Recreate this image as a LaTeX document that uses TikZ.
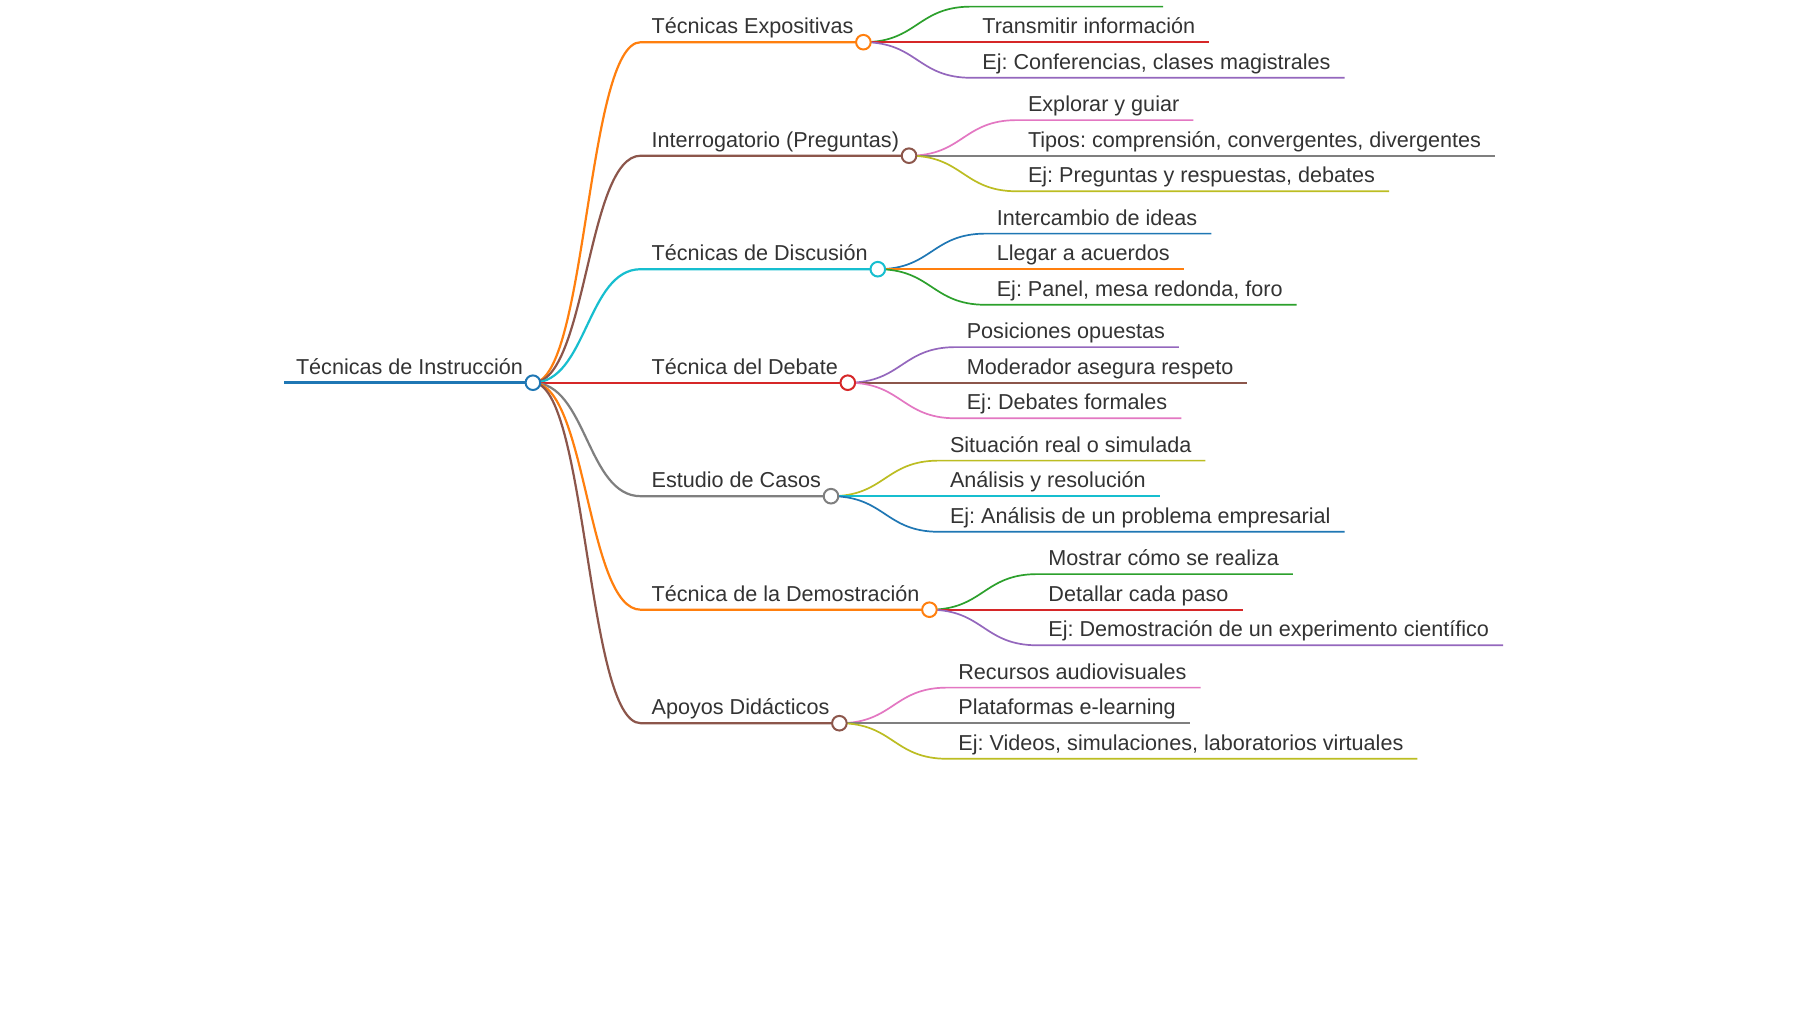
\documentclass[tikz,border=0pt]{standalone}
\usepackage{fontspec}
\setmainfont{Liberation Sans}
\usetikzlibrary{calc}
\definecolor{cBlue}{HTML}{1F77B4}
\definecolor{cOrange}{HTML}{FF7F0E}
\definecolor{cGreen}{HTML}{2CA02C}
\definecolor{cRed}{HTML}{D62728}
\definecolor{cPurple}{HTML}{9467BD}
\definecolor{cBrown}{HTML}{8C564B}
\definecolor{cPink}{HTML}{E377C2}
\definecolor{cGray}{HTML}{7F7F7F}
\definecolor{cOlive}{HTML}{BCBD22}
\definecolor{cCyan}{HTML}{17BECF}
\definecolor{txtc}{HTML}{333333}
\tikzset{
  lbl/.style={anchor=base west, inner sep=0pt, outer sep=0pt, text=txtc,
    font=\fontsize{21.6}{26}\selectfont\frenchspacing},
  l0/.style={line width=3pt},
  l1/.style={line width=2.2pt},
  l2/.style={line width=1.7pt},
  dotc/.style={circle, fill=white, line width=2pt, minimum size=14.6pt, inner sep=0pt}
}
\newcommand{\mmbranch}[4]{% name, y, color, text
  \coordinate (#1S) at (640.7,#2);
  \node[lbl] (#1) at ($(#1S)+(11,-8.5)$) {#4};
  \coordinate (#1C) at ($(#1.base east)+(10,8.5)$);
  \draw[l1,#3] (rC) .. controls +(54,0) and +(-54,0) .. (#1S) -- (#1C);
}
\newcommand{\mmleaf}[5]{% parent, name, dy, color, text
  \coordinate (#2S) at ($(#1C)+(108,#3)$);
  \node[lbl] (#2) at ($(#2S)+(11,-8.5)$) {#5};
  \coordinate (#2E) at ($(#2.base east)+(14,8.5)$);
  \draw[l2,#4] (#1C) .. controls +(54,0) and +(-54,0) .. (#2S) -- (#2E);
}
\begin{document}
\begin{tikzpicture}[x=1pt,y=-1pt]
\fill[white] (0,0) rectangle (1800,1012);
\useasboundingbox (0,0) rectangle (1800,1012);

% root
\coordinate (rS) at (284,382.7);
\node[lbl] (r) at (296,374.2) {Técnicas de Instrucción};
\coordinate (rC) at ($(r.base east)+(10,8.5)$);

% level 1
\mmbranch{a}{42.2}{cOrange}{Técnicas Expositivas}
\mmbranch{b}{155.7}{cBrown}{Interrogatorio (Preguntas)}
\mmbranch{c}{269.2}{cCyan}{Técnicas de Discusión}
\mmbranch{d}{382.7}{cRed}{Técnica del Debate}
\mmbranch{e}{496.2}{cGray}{Estudio de Casos}
\mmbranch{f}{609.7}{cOrange}{Técnica de la Demostración}
\mmbranch{g}{723.2}{cBrown}{Apoyos Didácticos}

% level 2
\coordinate (a1S) at ($(aC)+(108,-35.6)$);
\coordinate (a1E) at ($(a1S)+(191.7,0)$);
\draw[l2,cGreen] (aC) .. controls +(54,0) and +(-54,0) .. (a1S) -- (a1E);
\mmleaf{a}{a2}{0}{cRed}{Transmitir información}
\mmleaf{a}{a3}{35.6}{cPurple}{Ej: Conferencias, clases magistrales}

\mmleaf{b}{b1}{-35.6}{cPink}{Explorar y guiar}
\mmleaf{b}{b2}{0}{cGray}{Tipos: comprensión, convergentes, divergentes}
\mmleaf{b}{b3}{35.6}{cOlive}{Ej: Preguntas y respuestas, debates}

\mmleaf{c}{c1}{-35.6}{cBlue}{Intercambio de ideas}
\mmleaf{c}{c2}{0}{cOrange}{Llegar a acuerdos}
\mmleaf{c}{c3}{35.6}{cGreen}{Ej: Panel, mesa redonda, foro}

\mmleaf{d}{d1}{-35.6}{cPurple}{Posiciones opuestas}
\mmleaf{d}{d2}{0}{cBrown}{Moderador asegura respeto}
\mmleaf{d}{d3}{35.6}{cPink}{Ej: Debates formales}

\mmleaf{e}{e1}{-35.6}{cOlive}{Situación real o simulada}
\mmleaf{e}{e2}{0}{cCyan}{Análisis y resolución}
\mmleaf{e}{e3}{35.6}{cBlue}{Ej: Análisis de un problema empresarial}

\mmleaf{f}{f1}{-35.6}{cGreen}{Mostrar cómo se realiza}
\mmleaf{f}{f2}{0}{cRed}{Detallar cada paso}
\mmleaf{f}{f3}{35.6}{cPurple}{Ej: Demostración de un experimento científico}

\mmleaf{g}{g1}{-35.6}{cPink}{Recursos audiovisuales}
\mmleaf{g}{g2}{0}{cGray}{Plataformas e-learning}
\mmleaf{g}{g3}{35.6}{cOlive}{Ej: Videos, simulaciones, laboratorios virtuales}

% root line
\draw[l0,cBlue] (rS) -- (rC);

% circles on top
\node[dotc,draw=cBlue] (rD) at (rC) {};
\node[dotc,draw=cOrange] (aD) at (aC) {};
\node[dotc,draw=cBrown] (bD) at (bC) {};
\node[dotc,draw=cCyan] (cD) at (cC) {};
\node[dotc,draw=cRed] (dD) at (dC) {};
\node[dotc,draw=cGray] (eD) at (eC) {};
\node[dotc,draw=cOrange] (fD) at (fC) {};
\node[dotc,draw=cBrown] (gD) at (gC) {};
\end{tikzpicture}
\end{document}
